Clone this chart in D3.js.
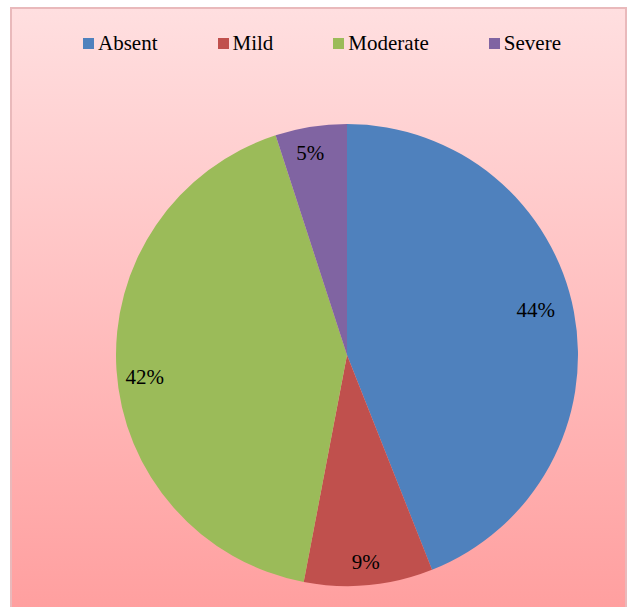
<!DOCTYPE html>
<html>
<head>
<meta charset="utf-8">
<script src="https://cdn.jsdelivr.net/npm/d3@7"></script>
<style>
  html, body { margin: 0; padding: 0; background: #ffffff; }
  #chart { position: relative; width: 630px; height: 607px; }
  svg { display: block; position: absolute; left: 0; top: 0; }
  .legend {
    position: absolute; left: 83px; top: 33px;
    display: flex; flex-direction: row; align-items: center;
    font-family: "Liberation Serif"; font-size: 21px; line-height: 21px;
    color: #000; white-space: nowrap;
  }
  .legend .item { display: flex; align-items: center; margin-right: 60px; }
  .legend .swatch { width: 11px; height: 11px; margin-right: 4px; }
</style>
</head>
<body>
<div id="chart"></div>
<script>
// Severity distribution (percent of patients)
const categories = ["Absent", "Mild", "Moderate", "Severe"];
const values = [44, 9, 42, 5];
const colors = ["#4f81bd", "#c0504d", "#9bbb59", "#8064a2"];

const FONT = '"Liberation Serif"';
const FONT_SIZE = 21;

function draw() {
  const width = 630, height = 607;
  const chart = d3.select("#chart");
  chart.selectAll("*").remove();
  const svg = chart.append("svg")
    .attr("width", width).attr("height", height);

  // Chart area background: pink vertical gradient with a soft border
  const defs = svg.append("defs");
  const grad = defs.append("linearGradient")
    .attr("id", "bg").attr("x1", 0).attr("y1", 0).attr("x2", 0).attr("y2", 1);
  grad.append("stop").attr("offset", "0%").attr("stop-color", "#ffdfe0");
  grad.append("stop").attr("offset", "100%").attr("stop-color", "#ff9e9e");

  svg.append("rect")
    .attr("x", 11).attr("y", 8)
    .attr("width", 615).attr("height", 612)
    .attr("fill", "url(#bg)")
    .attr("stroke", "#e9b9bb").attr("stroke-width", 2);

  // Pie
  const cx = 347, cy = 355, r = 231;
  const g = svg.append("g").attr("transform", `translate(${cx},${cy})`);

  const pie = d3.pie().sort(null).value(d => d.value);
  const data = categories.map((c, i) => ({ name: c, value: values[i], color: colors[i] }));
  const arcs = pie(data);

  const arc = d3.arc().innerRadius(0).outerRadius(r);
  g.selectAll("path.slice")
    .data(arcs)
    .enter().append("path")
    .attr("class", "slice")
    .attr("d", arc)
    .attr("fill", d => d.data.color);

  // Percentage labels placed near the rim of each slice (best-fit style nudges)
  const labelFrac = { Absent: 0.84, Mild: 0.9, Moderate: 0.88, Severe: 0.89 };
  const labelShift = { Absent: -2.6, Mild: 0.2, Moderate: -2.4, Severe: -1.3 }; // degrees
  g.selectAll("text.pct")
    .data(arcs)
    .enter().append("text")
    .attr("class", "pct")
    .attr("transform", d => {
      const lr = r * labelFrac[d.data.name];
      const s = labelShift[d.data.name] * Math.PI / 180;
      const la = d3.arc().innerRadius(lr).outerRadius(lr);
      const [x, y] = la.centroid({ startAngle: d.startAngle + s, endAngle: d.endAngle + s });
      return `translate(${x},${y})`;
    })
    .attr("text-anchor", "middle")
    .attr("dy", "0.35em")
    .style("font-family", FONT)
    .style("font-size", FONT_SIZE + "px")
    .style("fill", "#000")
    .text(d => d.value + "%");

  // Legend across the top, laid out by the browser (flex row)
  const legend = chart.append("div").attr("class", "legend");
  const items = legend.selectAll("div.item")
    .data(categories)
    .enter().append("div")
    .attr("class", "item");
  items.append("div")
    .attr("class", "swatch")
    .style("background", (d, i) => colors[i]);
  items.append("span").text(d => d);
}

// Draw once the serif face is loaded; draw immediately as well in case loading stalls
draw();
if (document.fonts && document.fonts.load) {
  document.fonts.load(`${FONT_SIZE}px ${FONT}`, "Absent 44%").then(draw);
}
</script>
</body>
</html>
